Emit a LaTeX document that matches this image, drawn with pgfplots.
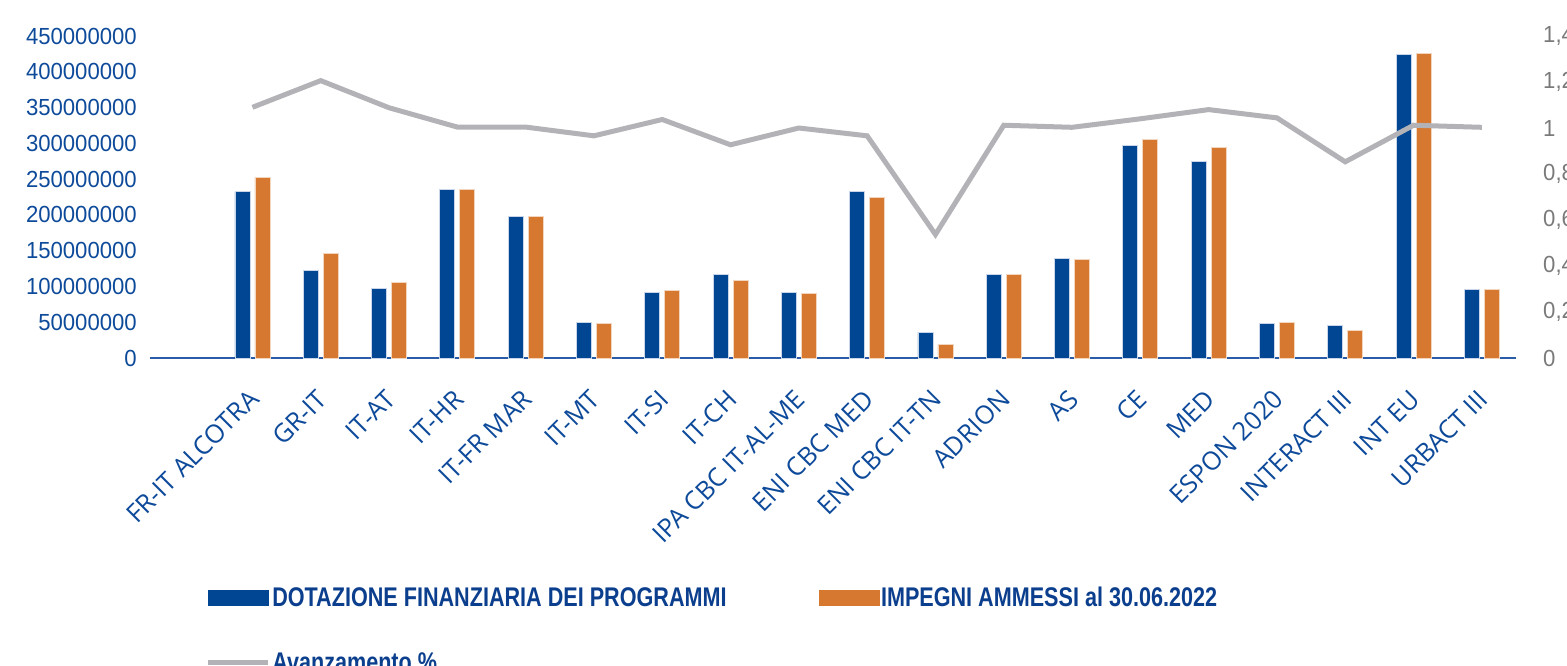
\documentclass[border=0pt]{standalone}
\usepackage{pgfplots}
\usepackage{pgfplotstable}
\pgfplotsset{compat=1.18}
\usepackage{fontspec}
\setmainfont{Liberation Sans}
\newfontfamily\numfont[FakeStretch=0.95]{Liberation Sans}
\newfontfamily\catfont{Open Sans}
\newfontfamily\legfont[FakeStretch=0.8]{Liberation Sans}
\definecolor{barblue}{HTML}{004693}
\definecolor{barorange}{HTML}{D67830}
\definecolor{barblueedge}{HTML}{C9D6EA}
\definecolor{barorangeedge}{HTML}{F3D6BE}
\definecolor{linegray}{HTML}{B3B3B7}
\definecolor{txtblue}{HTML}{0E4A9A}
\definecolor{axblue}{HTML}{2A5CA8}
\definecolor{axgray}{HTML}{7A7A7A}
\definecolor{legblue}{HTML}{0B3F8E}

\pgfplotstableread{
idx dot imp av
0 232300000 252400000 1.090
1 121900000 146200000 1.206
2 96800000 105200000 1.088
3 235000000 235000000 1.004
4 197900000 197900000 1.004
5 50300000 48900000 0.966
6 91200000 94500000 1.037
7 116800000 108500000 0.927
8 91200000 90700000 1.000
9 232700000 223900000 0.966
10 35800000 19100000 0.537
11 116800000 117300000 1.012
12 138700000 138000000 1.003
13 297000000 305900000 1.040
14 274200000 294300000 1.080
15 47900000 49300000 1.044
16 45100000 38700000 0.853
17 424200000 425600000 1.012
18 95400000 95400000 1.003
}\data

\begin{document}
\begin{tikzpicture}
\begin{axis}[
  at={(150pt,307pt)}, anchor=south west,
  width=1366pt, height=322pt, scale only axis,
  xmin=-1.5, xmax=18.5, ymin=0, ymax=450000000,
  axis x line*=bottom, axis y line*=left,
  x axis line style={draw=axblue, line width=2pt, -},
  y axis line style={draw=none},
  major tick length=0pt,
  scaled y ticks=false,
  xtick={0,1,2,3,4,5,6,7,8,9,10,11,12,13,14,15,16,17,18},
  xticklabels={FR-IT ALCOTRA,GR-IT,IT-AT,IT-HR,IT-FR MAR,IT-MT,IT-SI,IT-CH,IPA CBC IT-AL-ME,ENI CBC MED,ENI CBC IT-TN,ADRION,AS,CE,MED,ESPON 2020,INTERACT III,INT EU,URBACT III},
  xticklabel style={font=\catfont\fontsize{25.5}{25.5}\selectfont, text=txtblue, inner sep=0pt, xshift=-5pt, yshift=-30pt, rotate=45, anchor=north east},
  ytick={0,50000000,100000000,150000000,200000000,250000000,300000000,350000000,400000000,450000000},
  yticklabels={0,50000000,100000000,150000000,200000000,250000000,300000000,350000000,400000000,450000000},
  yticklabel style={font=\numfont\fontsize{23.3}{23.3}\selectfont, text=txtblue, anchor=east, inner sep=0pt, xshift=-13pt},
  ybar, bar width=15pt,
]
\addplot[fill=barblue, draw=barblueedge, line width=0.8pt, bar shift=-10pt] table[x=idx,y=dot]{\data};
\addplot[fill=barorange, draw=barorangeedge, line width=0.8pt, bar shift=10pt] table[x=idx,y=imp]{\data};
\end{axis}
\begin{axis}[
  at={(150pt,307pt)}, anchor=south west,
  width=1366pt, height=322pt, scale only axis,
  xmin=-1.5, xmax=18.5, ymin=0, ymax=1.4,
  hide x axis, axis y line*=right,
  y axis line style={draw=none},
  major tick length=0pt,
  ytick={0,0.2,0.4,0.6,0.8,1,1.2,1.4},
  yticklabels={0,{0,2},{0,4},{0,6},{0,8},1,{1,2},{1,4}},
  yticklabel style={font=\numfont\fontsize{23.3}{23.3}\selectfont, text=axgray, anchor=west, inner sep=0pt, xshift=27pt},
  legend columns=2,
  legend cell align=left,
  legend style={at={(0.0403,-0.705)}, anchor=north west, draw=none, fill=none,
    font=\legfont\bfseries\fontsize{27}{27}\selectfont, text=legblue,
    /tikz/every even column/.append style={column sep=90pt},
    row sep=40pt, inner sep=0pt},
]
\addlegendimage{legend image code/.code={\fill[barblue] (0pt,-7.5pt) rectangle (60pt,7.5pt);}}
\addlegendentry{DOTAZIONE FINANZIARIA DEI PROGRAMMI}
\addlegendimage{legend image code/.code={\fill[barorange] (0pt,-7.5pt) rectangle (60pt,7.5pt);}}
\addlegendentry{IMPEGNI AMMESSI al 30.06.2022}
\addplot[linegray, line width=5pt, mark=none,
  legend image code/.code={\draw[linegray, line width=5pt] (0pt,0pt) -- (60pt,0pt);}]
  table[x=idx,y=av]{\data};
\addlegendentry{Avanzamento \%}
\end{axis}
\pgfresetboundingbox
\path[use as bounding box] (0pt,0pt) rectangle (1567pt,665pt);
\end{tikzpicture}
\end{document}
